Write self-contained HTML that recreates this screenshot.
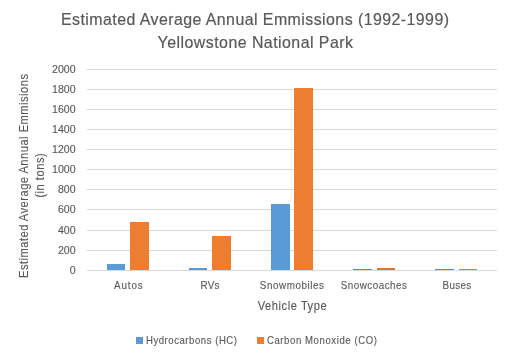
<!DOCTYPE html>
<html><head><meta charset="utf-8"><style>
html,body{margin:0;padding:0;background:#fff;}
svg{display:block;will-change:transform;}
text{font-family:"Liberation Sans",sans-serif;fill:#595959;}
.c{stroke:#595959;stroke-width:0.12px;}
.t{stroke:#595959;stroke-width:0.2px;}
</style></head><body>
<svg width="508" height="357" viewBox="0 0 508 357">
<rect width="508" height="357" fill="#fff"/>
<rect x="86.7" y="69" width="410.3" height="1" fill="#d9d9d9"/>
<rect x="86.7" y="89" width="410.3" height="1" fill="#d9d9d9"/>
<rect x="86.7" y="109" width="410.3" height="1" fill="#d9d9d9"/>
<rect x="86.7" y="129" width="410.3" height="1" fill="#d9d9d9"/>
<rect x="86.7" y="149" width="410.3" height="1" fill="#d9d9d9"/>
<rect x="86.7" y="169" width="410.3" height="1" fill="#d9d9d9"/>
<rect x="86.7" y="189" width="410.3" height="1" fill="#d9d9d9"/>
<rect x="86.7" y="209" width="410.3" height="1" fill="#d9d9d9"/>
<rect x="86.7" y="230" width="410.3" height="1" fill="#d9d9d9"/>
<rect x="86.7" y="250" width="410.3" height="1" fill="#d9d9d9"/>
<rect x="86.7" y="270" width="410.3" height="1" fill="#d9d9d9"/>
<rect x="107" y="264" width="18" height="6" fill="#5b9bd5"/>
<rect x="130" y="222" width="19" height="48" fill="#ed7d31"/>
<rect x="189" y="268" width="18" height="2" fill="#5b9bd5"/>
<rect x="212" y="236" width="19" height="34" fill="#ed7d31"/>
<rect x="271" y="204" width="19" height="66" fill="#5b9bd5"/>
<rect x="294" y="88" width="19" height="182" fill="#ed7d31"/>
<rect x="353" y="269" width="19" height="1" fill="#5b8ac0"/>
<rect x="377" y="268" width="18" height="2" fill="#e07530"/>
<rect x="435" y="269" width="19" height="1" fill="#5b8ac0"/>
<rect x="459" y="269" width="18" height="1" fill="#d8803f"/>
<rect x="136" y="337" width="7" height="7" fill="#5b9bd5"/>
<rect x="257" y="337" width="7" height="7" fill="#ed7d31"/>
<g transform="translate(75.6,73.3) scale(1.0,1)"><text class="c" x="0" y="0" text-anchor="end" font-size="10.6">2000</text></g>
<g transform="translate(75.6,93.3) scale(1.0,1)"><text class="c" x="0" y="0" text-anchor="end" font-size="10.6">1800</text></g>
<g transform="translate(75.6,113.3) scale(1.0,1)"><text class="c" x="0" y="0" text-anchor="end" font-size="10.6">1600</text></g>
<g transform="translate(75.6,133.3) scale(1.0,1)"><text class="c" x="0" y="0" text-anchor="end" font-size="10.6">1400</text></g>
<g transform="translate(75.6,153.3) scale(1.0,1)"><text class="c" x="0" y="0" text-anchor="end" font-size="10.6">1200</text></g>
<g transform="translate(75.6,173.3) scale(1.0,1)"><text class="c" x="0" y="0" text-anchor="end" font-size="10.6">1000</text></g>
<g transform="translate(75.6,193.3) scale(1.0,1)"><text class="c" x="0" y="0" text-anchor="end" font-size="10.6">800</text></g>
<g transform="translate(75.6,213.3) scale(1.0,1)"><text class="c" x="0" y="0" text-anchor="end" font-size="10.6">600</text></g>
<g transform="translate(75.6,234.3) scale(1.0,1)"><text class="c" x="0" y="0" text-anchor="end" font-size="10.6">400</text></g>
<g transform="translate(75.6,254.3) scale(1.0,1)"><text class="c" x="0" y="0" text-anchor="end" font-size="10.6">200</text></g>
<g transform="translate(75.6,274.3) scale(1.0,1)"><text class="c" x="0" y="0" text-anchor="end" font-size="10.6">0</text></g>
<g transform="translate(128.3,288.6) scale(0.93,1)"><text class="c" x="0" y="0" text-anchor="middle" font-size="10.6" textLength="30.97" lengthAdjust="spacing">Autos</text></g>
<g transform="translate(209.9,288.6) scale(0.93,1)"><text class="c" x="0" y="0" text-anchor="middle" font-size="10.6" textLength="20.43" lengthAdjust="spacing">RVs</text></g>
<g transform="translate(291.9,288.6) scale(0.93,1)"><text class="c" x="0" y="0" text-anchor="middle" font-size="10.6" textLength="69.14" lengthAdjust="spacing">Snowmobiles</text></g>
<g transform="translate(373.8,288.6) scale(0.93,1)"><text class="c" x="0" y="0" text-anchor="middle" font-size="10.6" textLength="71.18" lengthAdjust="spacing">Snowcoaches</text></g>
<g transform="translate(456.9,288.6) scale(0.93,1)"><text class="c" x="0" y="0" text-anchor="middle" font-size="10.6" textLength="30.75" lengthAdjust="spacing">Buses</text></g>
<g transform="translate(255,25) scale(0.96,1)"><text class="t" x="0" y="0" text-anchor="middle" font-size="16.6" textLength="404.17" lengthAdjust="spacing">Estimated Average Annual Emmissions (1992-1999)</text></g>
<g transform="translate(255.3,47.8) scale(0.96,1)"><text class="t" x="0" y="0" text-anchor="middle" font-size="16.6" textLength="203.54" lengthAdjust="spacing">Yellowstone National Park</text></g>
<g transform="translate(28.3,176) rotate(-90) scale(0.93,1)"><text class="c" x="0" y="0" text-anchor="middle" font-size="12" textLength="219.35" lengthAdjust="spacing">Estimated Average Annual Emmisions</text></g>
<g transform="translate(43.8,175.5) rotate(-90) scale(0.93,1)"><text class="c" x="0" y="0" text-anchor="middle" font-size="12" textLength="47.85" lengthAdjust="spacing">(in tons)</text></g>
<g transform="translate(292.2,310.3) scale(0.93,1)"><text class="c" x="0" y="0" text-anchor="middle" font-size="12" textLength="74.19" lengthAdjust="spacing">Vehicle Type</text></g>
<g transform="translate(146,343.8) scale(0.93,1)"><text class="c" x="0" y="0" text-anchor="start" font-size="10.3" textLength="97.85" lengthAdjust="spacing">Hydrocarbons (HC)</text></g>
<g transform="translate(266.9,343.8) scale(0.93,1)"><text class="c" x="0" y="0" text-anchor="start" font-size="10.3" textLength="118.39" lengthAdjust="spacing">Carbon Monoxide (CO)</text></g>
</svg>
</body></html>
